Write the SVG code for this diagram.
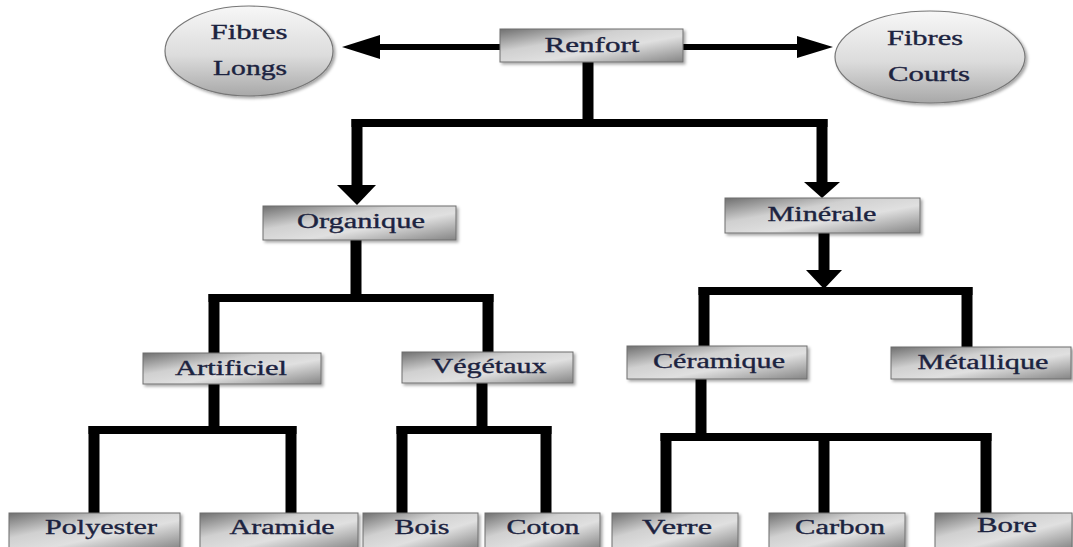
<svg xmlns="http://www.w3.org/2000/svg" width="1073" height="547" viewBox="0 0 1073 547">
<defs>
<linearGradient id="boxg" x1="0" y1="0" x2="1" y2="1">
<stop offset="0" stop-color="#6f6f6f"/>
<stop offset="0.35" stop-color="#d0d0d0"/>
<stop offset="0.6" stop-color="#e0e0e0"/>
<stop offset="1" stop-color="#858585"/>
</linearGradient>
<linearGradient id="ellg" x1="0" y1="0" x2="0" y2="1">
<stop offset="0" stop-color="#f7f7f7"/>
<stop offset="0.55" stop-color="#dcdcdc"/>
<stop offset="1" stop-color="#a8a8a8"/>
</linearGradient>
<filter id="sh" x="-10%" y="-20%" width="130%" height="160%">
<feDropShadow dx="2" dy="2" stdDeviation="1.5" flood-color="#000" flood-opacity="0.35"/>
</filter>
</defs>
<style>
.box{fill:url(#boxg);stroke:#6e6e6e;stroke-width:1;filter:url(#sh)}
.ell{fill:url(#ellg);stroke:#777;stroke-width:1.2;filter:url(#sh)}
.t{font-family:"Liberation Serif","Times New Roman",serif;font-size:20px;fill:#1c2340;stroke:#1c2340;stroke-width:0.35;text-anchor:middle}
.v{stroke:#000;stroke-width:11;fill:none}
.h{stroke:#000;stroke-width:8;fill:none}
.thin{stroke:#000;stroke-width:6;fill:none}
.head{fill:#000}
</style>
<rect width="1073" height="547" fill="#fff"/>
<g id="connectors">
<line class="thin" x1="500" y1="47" x2="378" y2="47"/>
<polygon class="head" points="380,35 342,47 380,59"/>
<line class="thin" x1="683" y1="47" x2="799" y2="47"/>
<polygon class="head" points="797,36 833,47 797,58"/>
<line class="v" x1="588" y1="62" x2="588" y2="123"/>
<line class="h" x1="351.5" y1="123" x2="827.5" y2="123"/>
<line class="v" x1="357" y1="119" x2="357" y2="187"/>
<polygon class="head" points="337,185 376,185 357,205"/>
<line class="v" x1="822" y1="119" x2="822" y2="184"/>
<polygon class="head" points="804,182 840,182 822,198"/>
<line class="v" x1="356" y1="240" x2="356" y2="298"/>
<line class="h" x1="208.5" y1="298" x2="493.5" y2="298"/>
<line class="v" x1="214" y1="294" x2="214" y2="353"/>
<line class="v" x1="488" y1="294" x2="488" y2="352"/>
<line class="v" x1="824" y1="233" x2="824" y2="272"/>
<polygon class="head" points="806,270 842,270 824,289"/>
<line class="h" x1="698.5" y1="291" x2="972.5" y2="291"/>
<line class="v" x1="704" y1="287" x2="704" y2="346"/>
<line class="v" x1="967" y1="287" x2="967" y2="347"/>
<line class="v" x1="214" y1="384" x2="214" y2="430"/>
<line class="h" x1="88.5" y1="430" x2="296.5" y2="430"/>
<line class="v" x1="94" y1="426" x2="94" y2="513"/>
<line class="v" x1="291" y1="426" x2="291" y2="513"/>
<line class="v" x1="482" y1="383" x2="482" y2="430"/>
<line class="h" x1="396.5" y1="430" x2="551.5" y2="430"/>
<line class="v" x1="402" y1="426" x2="402" y2="513"/>
<line class="v" x1="546" y1="426" x2="546" y2="513"/>
<line class="v" x1="701" y1="379" x2="701" y2="437"/>
<line class="h" x1="660.5" y1="437" x2="991.5" y2="437"/>
<line class="v" x1="666" y1="433" x2="666" y2="513"/>
<line class="v" x1="824" y1="433" x2="824" y2="513"/>
<line class="v" x1="986" y1="433" x2="986" y2="513"/>
</g>
<g id="fibres-longs"><ellipse class="ell" cx="249" cy="51" rx="84" ry="45"/><text class="t" x="249" y="39" textLength="77" lengthAdjust="spacingAndGlyphs">Fibres</text><text class="t" x="250" y="75" textLength="74" lengthAdjust="spacingAndGlyphs">Longs</text></g>
<g id="fibres-courts"><ellipse class="ell" cx="930" cy="57" rx="95" ry="46"/><text class="t" x="925" y="45" textLength="76" lengthAdjust="spacingAndGlyphs">Fibres</text><text class="t" x="929" y="81" textLength="82" lengthAdjust="spacingAndGlyphs">Courts</text></g>
<g id="renfort"><rect class="box" x="500" y="29" width="183" height="33"/><text class="t" x="592" y="52" textLength="95" lengthAdjust="spacingAndGlyphs">Renfort</text></g>
<g id="organique"><rect class="box" x="263" y="206" width="193" height="34"/><text class="t" x="361" y="228" textLength="128" lengthAdjust="spacingAndGlyphs">Organique</text></g>
<g id="minerale"><rect class="box" x="725" y="198" width="195" height="35"/><text class="t" x="822" y="221" textLength="109" lengthAdjust="spacingAndGlyphs">Minérale</text></g>
<g id="artificiel"><rect class="box" x="143" y="353" width="178" height="31"/><text class="t" x="231" y="375" textLength="112" lengthAdjust="spacingAndGlyphs">Artificiel</text></g>
<g id="vegetaux"><rect class="box" x="402" y="352" width="171" height="31"/><text class="t" x="489" y="373" textLength="115" lengthAdjust="spacingAndGlyphs">Végétaux</text></g>
<g id="ceramique"><rect class="box" x="627" y="346" width="180" height="33"/><text class="t" x="719" y="368" textLength="132" lengthAdjust="spacingAndGlyphs">Céramique</text></g>
<g id="metallique"><rect class="box" x="891" y="347" width="180" height="32"/><text class="t" x="983" y="369" textLength="131" lengthAdjust="spacingAndGlyphs">Métallique</text></g>
<g id="polyester"><rect class="box" x="9" y="513" width="171" height="36"/><text class="t" x="101" y="534" textLength="112" lengthAdjust="spacingAndGlyphs">Polyester</text></g>
<g id="aramide"><rect class="box" x="200" y="513" width="158" height="36"/><text class="t" x="282" y="534" textLength="105" lengthAdjust="spacingAndGlyphs">Aramide</text></g>
<g id="bois"><rect class="box" x="363" y="513" width="115" height="36"/><text class="t" x="422" y="534" textLength="55" lengthAdjust="spacingAndGlyphs">Bois</text></g>
<g id="coton"><rect class="box" x="485" y="513" width="115" height="36"/><text class="t" x="543" y="534" textLength="73" lengthAdjust="spacingAndGlyphs">Coton</text></g>
<g id="verre"><rect class="box" x="612" y="513" width="126" height="36"/><text class="t" x="677" y="534" textLength="70" lengthAdjust="spacingAndGlyphs">Verre</text></g>
<g id="carbon"><rect class="box" x="769" y="513" width="136" height="36"/><text class="t" x="840" y="534" textLength="90" lengthAdjust="spacingAndGlyphs">Carbon</text></g>
<g id="bore"><rect class="box" x="935" y="513" width="137" height="36"/><text class="t" x="1007" y="532" textLength="60" lengthAdjust="spacingAndGlyphs">Bore</text></g>
</svg>
